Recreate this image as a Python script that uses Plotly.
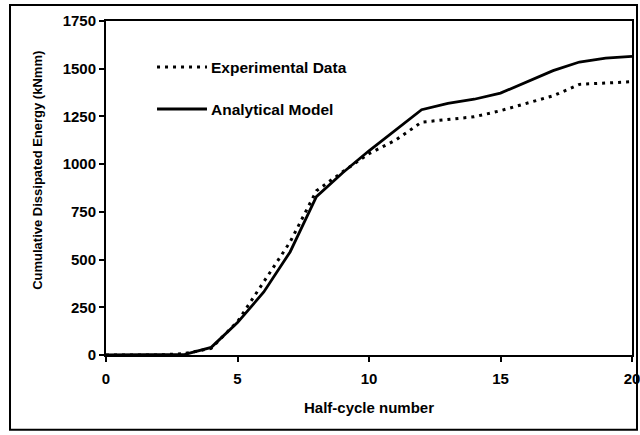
import plotly.graph_objects as go

# Half-cycle index and cumulative dissipated energy (kN·mm)
half_cycles = list(range(0, 21))
experimental = [0, 0, 0, 8, 35, 175, 385, 592, 860, 960, 1055,
                1125, 1220, 1235, 1248, 1280, 1320, 1358, 1418, 1425, 1432]
analytical = [0, 0, 0, 3, 40, 170, 330, 540, 830, 955, 1070,
              1180, 1285, 1318, 1340, 1372, 1430, 1490, 1535, 1555, 1565]

series_names = ["Experimental Data", "Analytical Model"]
x_ticks = [0, 5, 10, 15, 20]
y_ticks = [0, 250, 500, 750, 1000, 1250, 1500, 1750]

FONT = "Liberation Sans, Arial, sans-serif"
DOT = "3px,5px"

fig = go.Figure()
fig.add_trace(go.Scatter(
    x=half_cycles, y=experimental, mode="lines", name=series_names[0],
    line=dict(color="black", width=3, dash=DOT), showlegend=False))
fig.add_trace(go.Scatter(
    x=half_cycles, y=analytical, mode="lines", name=series_names[1],
    line=dict(color="black", width=2.8), showlegend=False))

# Key drawn inside the plot area
key_rows = [(0.862, DOT, series_names[0]), (0.7365, "solid", series_names[1])]
for ky, dash, label in key_rows:
    fig.add_shape(type="line", xref="paper", yref="paper",
                  x0=0.097, x1=0.192, y0=ky, y1=ky,
                  line=dict(color="black", width=3 if dash != "solid" else 2.8, dash=dash))
    fig.add_annotation(xref="paper", yref="paper", x=0.195, y=ky,
                       xanchor="left", yanchor="middle", showarrow=False,
                       text=label, font=dict(family=FONT, size=15.5, color="black", weight="bold"))

# Y axis caption, set a little above the middle of the axis
fig.add_annotation(xref="paper", yref="paper", x=-0.1295, y=0.554,
                   xanchor="center", yanchor="middle", showarrow=False, textangle=-90,
                   text="Cumulative Dissipated Energy (kNmm)",
                   font=dict(family=FONT, size=13, color="black", weight="bold"))

# Outer frame around the whole chart
fig.add_shape(type="rect", xref="paper", yref="paper",
              x0=-0.1825, x1=1.0095, y0=-0.224, y1=1.048,
              line=dict(color="black", width=2), layer="above")

axis_common = dict(
    showline=True, linecolor="black", linewidth=2, mirror=True,
    ticks="outside", ticklen=5, tickwidth=2, tickcolor="black",
    showgrid=False, zeroline=False, automargin=False,
    ticklabeloverflow="allow",
    tickfont=dict(family=FONT, size=15, color="black", weight="bold"),
)

fig.update_xaxes(
    range=[0, 20], tickvals=x_ticks, ticktext=[str(t) for t in x_ticks],
    ticklabelstandoff=4,
    title=dict(text="Half-cycle number", standoff=16,
               font=dict(family=FONT, size=15, color="black", weight="bold")),
    **axis_common)
fig.update_yaxes(
    range=[0, 1750], tickvals=y_ticks, ticktext=[str(t) for t in y_ticks],
    **axis_common)

fig.update_layout(
    width=640, height=435,
    margin=dict(l=106, r=8, t=21, b=80),
    paper_bgcolor="white", plot_bgcolor="white",
    font=dict(family=FONT, color="black"),
)

fig.write_html("out.html")
